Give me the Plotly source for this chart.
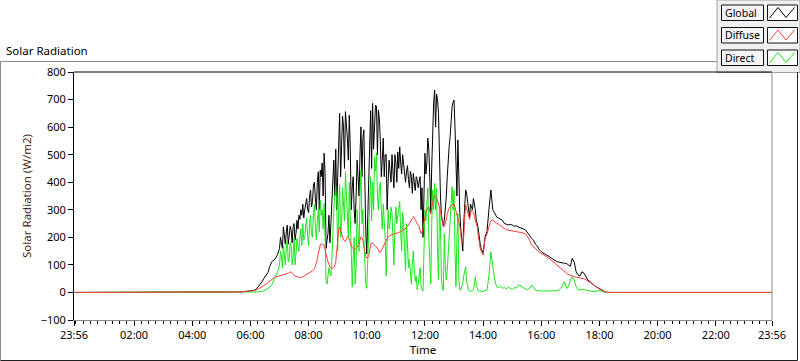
import plotly.graph_objects as go

# ---------------- data ----------------
# sampling: (start minute, step minutes, count)
#   04:00-06:56 every 4 min, 07:00-13:58 every 2 min, 14:00-19:00 every 4 min
segments = [(240, 4, 45), (420, 2, 210), (840, 4, 76)]

global_vals = [
    # 04:00 - 04:56 (4 min)
    0, 0, 0, 0, 0, 0, 0, 0, 0, 0, 0, 0, 0, 0, 0,
    # 05:00 - 05:56
    0, 0, 0, 0, 0, 0, 1, 1, 1, 1, 2, 3, 3, 4, 5,
    # 06:00 - 06:56
    6, 7, 8, 12, 20, 30, 39, 52, 63, 72, 95, 111, 117, 125, 138,
    # 07:00 - 07:58 (2 min)
    160, 200, 185, 160, 238, 190, 175, 220, 244, 175, 200, 240, 225, 180, 238,
    250, 190, 215, 262, 230, 280, 265, 300, 280, 320, 270, 300, 330, 341, 300,
    # 08:00 - 08:58
    290, 350, 372, 310, 330, 390, 400, 340, 300, 400, 438, 300, 444, 420, 470,
    350, 505, 430, 160, 190, 214, 280, 180, 250, 330, 420, 480, 350, 520, 300,
    # 09:00 - 09:58
    430, 550, 650, 420, 500, 640, 600, 450, 656, 610, 560, 480, 643, 520, 300,
    380, 420, 300, 250, 350, 480, 420, 350, 500, 601, 420, 560, 590, 300, 220,
    # 10:00 - 10:58
    140, 300, 400, 600, 660, 450, 686, 520, 620, 680, 676, 500, 662, 630, 550,
    420, 480, 560, 420, 500, 500, 300, 400, 480, 440, 400, 500, 450, 380, 500,
    # 11:00 - 11:58
    470, 400, 510, 450, 528, 470, 430, 500, 460, 420, 400, 440, 460, 410, 380,
    440, 420, 360, 432, 400, 370, 420, 410, 380, 400, 420, 300, 380, 200, 420,
    # 12:00 - 12:58
    505, 430, 470, 560, 520, 420, 290, 456, 600, 690, 734, 600, 720, 700, 650,
    408, 350, 280, 250, 240, 263, 300, 347, 420, 500, 530, 565, 650, 674, 690,
    # 13:00 - 13:58
    698, 600, 468, 350, 553, 400, 287, 230, 166, 150, 250, 330, 372, 360, 335,
    300, 274, 320, 311, 300, 341, 320, 300, 260, 250, 230, 190, 175, 160, 150,
    # 14:00 - 14:56 (4 min)
    142, 202, 220, 300, 372, 300, 287, 274, 270, 265, 262, 250, 248, 245, 247,
    # 15:00 - 15:56
    245, 240, 242, 238, 236, 232, 230, 226, 215, 202, 196, 190, 175, 168, 155,
    # 16:00 - 16:56
    148, 142, 138, 135, 130, 125, 120, 115, 112, 110, 108, 107, 106, 105, 100,
    # 17:00 - 17:56
    95, 124, 110, 75, 63, 60, 75, 70, 55, 45, 40, 32, 27, 22, 18,
    # 18:00 - 18:56
    12, 8, 5, 2, 0, 0, 0, 0, 0, 0, 0, 0, 0, 0, 0,
    # 19:00
    0,
]

diffuse_vals = [
    0, 0, 0, 0, 0, 0, 0, 0, 0, 0, 0, 0, 0, 0, 0,
    0, 0, 0, 0, 0, 0, 1, 1, 1, 1, 2, 2, 3, 3, 4,
    5, 6, 7, 9, 12, 16, 20, 25, 30, 36, 42, 47, 55, 58, 58,
    # 07
    60, 61, 62, 63, 63, 65, 66, 67, 68, 70, 72, 74, 75, 70, 66,
    61, 58, 57, 57, 56, 55, 55, 54, 55, 57, 58, 60, 62, 63, 65,
    # 08
    68, 70, 72, 75, 78, 82, 85, 95, 105, 122, 140, 160, 172, 176, 175,
    172, 170, 158, 140, 125, 110, 100, 93, 90, 87, 88, 90, 98, 110, 150,
    # 09
    200, 225, 238, 225, 210, 198, 190, 188, 185, 195, 202, 200, 195, 180, 166,
    162, 160, 158, 155, 160, 165, 170, 175, 190, 202, 198, 190, 165, 142, 132,
    # 10
    125, 126, 130, 155, 175, 180, 180, 175, 168, 167, 166, 158, 150, 146, 145,
    152, 160, 170, 178, 185, 190, 196, 202, 204, 205, 208, 210, 212, 214, 214,
    # 11
    214, 216, 218, 219, 220, 221, 222, 224, 226, 228, 230, 235, 240, 245, 250,
    255, 260, 268, 275, 270, 265, 258, 250, 245, 240, 225, 214, 220, 230, 255,
    # 12
    280, 290, 300, 306, 311, 295, 285, 310, 330, 345, 353, 350, 345, 333, 323,
    310, 300, 270, 250, 242, 240, 250, 263, 285, 299, 305, 311, 313, 315, 320,
    # 13
    323, 310, 295, 285, 275, 258, 240, 210, 178, 185, 200, 270, 320, 305, 290,
    275, 265, 285, 299, 296, 293, 275, 260, 250, 238, 205, 178, 160, 150, 142,
    # 14 - 19 (4 min)
    136, 195, 210, 238, 260, 263, 255, 250, 248, 242, 238, 232, 228, 226, 226,
    224, 222, 221, 220, 219, 217, 215, 212, 200, 190, 172, 165, 158, 152, 146,
    142, 138, 133, 129, 124, 118, 112, 105, 99, 92, 85, 80, 75, 70, 65,
    62, 60, 57, 55, 54, 53, 52, 50, 46, 42, 37, 33, 28, 22, 17,
    11, 8, 5, 2, 0, 0, 0, 0, 0, 0, 0, 0, 0, 0, 0,
    0,
]

direct_vals = [
    0, 0, 0, 0, 0, 0, 0, 0, 0, 0, 0, 0, 0, 0, 0,
    0, 0, 0, 0, 0, 0, 0, 0, 0, 0, 0, 0, 0, 0, 0,
    0, 0, 1, 1, 2, 3, 4, 6, 10, 14, 20, 28, 45, 55, 75,
    # 07
    100, 150, 130, 90, 170, 130, 100, 160, 190, 110, 120, 180, 170, 100, 130,
    200, 100, 140, 195, 170, 150, 200, 230, 170, 250, 190, 200, 240, 270, 200,
    # 08
    170, 250, 280, 210, 200, 290, 320, 240, 190, 260, 300, 220, 335, 280, 300,
    230, 323, 200, 45, 30, 57, 90, 70, 60, 120, 250, 300, 350, 384, 330,
    # 09
    150, 300, 390, 200, 250, 380, 330, 260, 438, 350, 300, 200, 400, 250, 60,
    20, 120, 200, 30, 90, 300, 200, 150, 350, 444, 250, 300, 200, 70, 30,
    # 10
    15, 120, 250, 350, 420, 260, 400, 300, 492, 440, 505, 350, 300, 380, 400,
    300, 230, 320, 270, 200, 60, 180, 300, 230, 250, 310, 290, 200, 100, 250,
    # 11
    310, 250, 280, 320, 330, 220, 150, 290, 260, 150, 80, 250, 190, 90, 120,
    60, 30, 100, 150, 80, 40, 60, 10, 30, 60, 90, 20, 10, 5, 150,
    # 12
    300, 260, 350, 380, 200, 100, 30, 250, 371, 300, 396, 300, 380, 150, 45,
    311, 240, 60, 10, 8, 214, 100, 45, 80, 142, 200, 287, 350, 384, 300,
    # 13
    370, 150, 20, 200, 287, 45, 8, 10, 25, 33, 60, 80, 93, 40, 20,
    8, 5, 4, 5, 6, 10, 30, 57, 25, 14, 6, 5, 4, 3, 3,
    # 14 - 19 (4 min)
    3, 8, 8, 60, 148, 93, 45, 20, 18, 22, 15, 18, 12, 20, 15,
    10, 18, 15, 25, 27, 20, 15, 12, 10, 15, 27, 15, 8, 6, 5,
    5, 5, 6, 5, 6, 5, 6, 5, 6, 8, 15, 27, 39, 15, 20,
    45, 57, 45, 21, 9, 9, 11, 11, 8, 6, 5, 4, 3, 3, 5,
    8, 4, 2, 1, 0, 0, 0, 0, 0, 0, 0, 0, 0, 0, 0,
    0,
]

day_start_h = -4 / 60          # 23:56 of the previous day
day_end_h = 23 + 56 / 60       # 23:56
night_value = 0

tick_hours = [day_start_h, 2, 4, 6, 8, 10, 12, 14, 16, 18, 20, 22, day_end_h]
tick_labels = ["23:56", "02:00", "04:00", "06:00", "08:00", "10:00", "12:00",
               "14:00", "16:00", "18:00", "20:00", "22:00", "23:56"]
y_ticks = [-100, 0, 100, 200, 300, 400, 500, 600, 700, 800]

series_names = ["Global", "Diffuse", "Direct"]
series_colors = {"Global": "#000000", "Diffuse": "#ff3c3c", "Direct": "#19e619"}

# ---------------- build figure ----------------
sample_hours = []
for start, step, count in segments:
    sample_hours += [(start + k * step) / 60 for k in range(count)]
times = [day_start_h] + sample_hours + [day_end_h]


def full(vals):
    return [night_value] + list(vals) + [night_value]


W, H = 800, 361
L, R, T, B = 74, 28, 72, 41
PW, PH = W - L - R, H - T - B

FONT = "Noto Sans"


def px(x):
    return (x - L) / PW


def py(y):
    return 1 - (y - T) / PH


fig = go.Figure()
for name, vals in [("Global", global_vals), ("Direct", direct_vals), ("Diffuse", diffuse_vals)]:
    fig.add_trace(go.Scatter(
        x=times, y=full(vals), mode="lines", name=name,
        line=dict(color=series_colors[name], width=1),
        showlegend=False,
    ))

shapes = []
# outer frame (LabVIEW-style panel)
shapes.append(dict(type="line", xref="paper", yref="paper",
                   x0=px(0.5), x1=px(717), y0=py(61.5), y1=py(61.5),
                   line=dict(color="#8a8a8a", width=1)))
shapes.append(dict(type="line", xref="paper", yref="paper",
                   x0=px(0.5), x1=px(0.5), y0=py(61.5), y1=py(360.5),
                   line=dict(color="#8a8a8a", width=1)))
shapes.append(dict(type="line", xref="paper", yref="paper",
                   x0=px(0.5), x1=px(797.5), y0=py(360.5), y1=py(360.5),
                   line=dict(color="#202020", width=1)))
shapes.append(dict(type="line", xref="paper", yref="paper",
                   x0=px(797.5), x1=px(797.5), y0=py(72), y1=py(360.5),
                   line=dict(color="#202020", width=1)))
# legend panel
shapes.append(dict(type="rect", xref="paper", yref="paper",
                   x0=px(717), x1=px(800), y0=py(0), y1=py(72.5),
                   fillcolor="#f0f0f0", line=dict(color="#a0a0a0", width=1), layer="below"))
# plot area borders
shapes.append(dict(type="line", xref="paper", yref="paper",
                   x0=0, x1=1, y0=1, y1=1, line=dict(color="#000000", width=1)))
shapes.append(dict(type="line", xref="paper", yref="paper",
                   x0=1, x1=1, y0=0, y1=1, line=dict(color="#8a8a8a", width=1)))

annotations = []
row_top = [5, 27.5, 50]
for name, top in zip(series_names, row_top):
    bot = top + 15.5
    # label box
    shapes.append(dict(type="rect", xref="paper", yref="paper",
                       x0=px(721.5), x1=px(763.5), y0=py(bot), y1=py(top),
                       fillcolor="#f4f4f4", line=dict(color="#101010", width=1)))
    # icon box
    shapes.append(dict(type="rect", xref="paper", yref="paper",
                       x0=px(767.5), x1=px(797.5), y0=py(bot), y1=py(top),
                       fillcolor="#ffffff", line=dict(color="#101010", width=1)))
    zig = [(769.5, top + 13), (778, top + 2.5), (786, top + 12.5), (794.5, top + 2.5)]
    path = "M " + " L ".join(f"{px(a)},{py(b)}" for a, b in zig)
    shapes.append(dict(type="path", xref="paper", yref="paper", path=path,
                       line=dict(color=series_colors[name], width=1)))
    annotations.append(dict(xref="paper", yref="paper", x=px(723), y=py(top + 7.8),
                            text=name, showarrow=False, xanchor="left", yanchor="middle",
                            font=dict(family=FONT, size=10.5, color="#000000")))

annotations.append(dict(xref="paper", yref="paper", x=px(4), y=py(50),
                        text="Solar Radiation", showarrow=False,
                        xanchor="left", yanchor="middle",
                        font=dict(family=FONT, size=11.5, color="#000000")))

fig.update_layout(
    width=W, height=H,
    margin=dict(l=L, r=R, t=T, b=B, pad=0, autoexpand=False),
    paper_bgcolor="#ffffff", plot_bgcolor="#ffffff",
    shapes=shapes, annotations=annotations,
    showlegend=False,
    font=dict(family=FONT, size=11, color="#000000"),
    xaxis=dict(
        range=[day_start_h, day_end_h], tickmode="array",
        tickvals=tick_hours, ticktext=tick_labels,
        showgrid=False, zeroline=False, automargin=False,
        showline=True, linecolor="#8a8a8a", linewidth=1,
        ticks="outside", ticklen=5, tickcolor="#000000", tickwidth=1,
        tickfont=dict(family=FONT, size=11, color="#000000"),
        minor=dict(tick0=0, dtick=0.25, ticks="outside", ticklen=3,
                   tickcolor="#000000", tickwidth=1, showgrid=False),
        title=dict(text="Time", standoff=2,
                   font=dict(family=FONT, size=11.5, color="#000000")),
        fixedrange=True,
    ),
    yaxis=dict(
        range=[-100, 800], tickmode="array", tickvals=y_ticks,
        showgrid=False, zeroline=False, automargin=False,
        showline=True, linecolor="#000000", linewidth=1,
        ticks="outside", ticklen=5, tickcolor="#000000", tickwidth=1,
        tickfont=dict(family=FONT, size=11, color="#000000"),
        title=dict(text="Solar Radiation (W/m2)", standoff=6,
                   font=dict(family=FONT, size=11.5, color="#4a2a12")),
        fixedrange=True,
    ),
)

fig.write_html("out.html", config={"displayModeBar": False},
               post_script="document.body.style.margin='0';document.body.style.overflow='hidden';")
